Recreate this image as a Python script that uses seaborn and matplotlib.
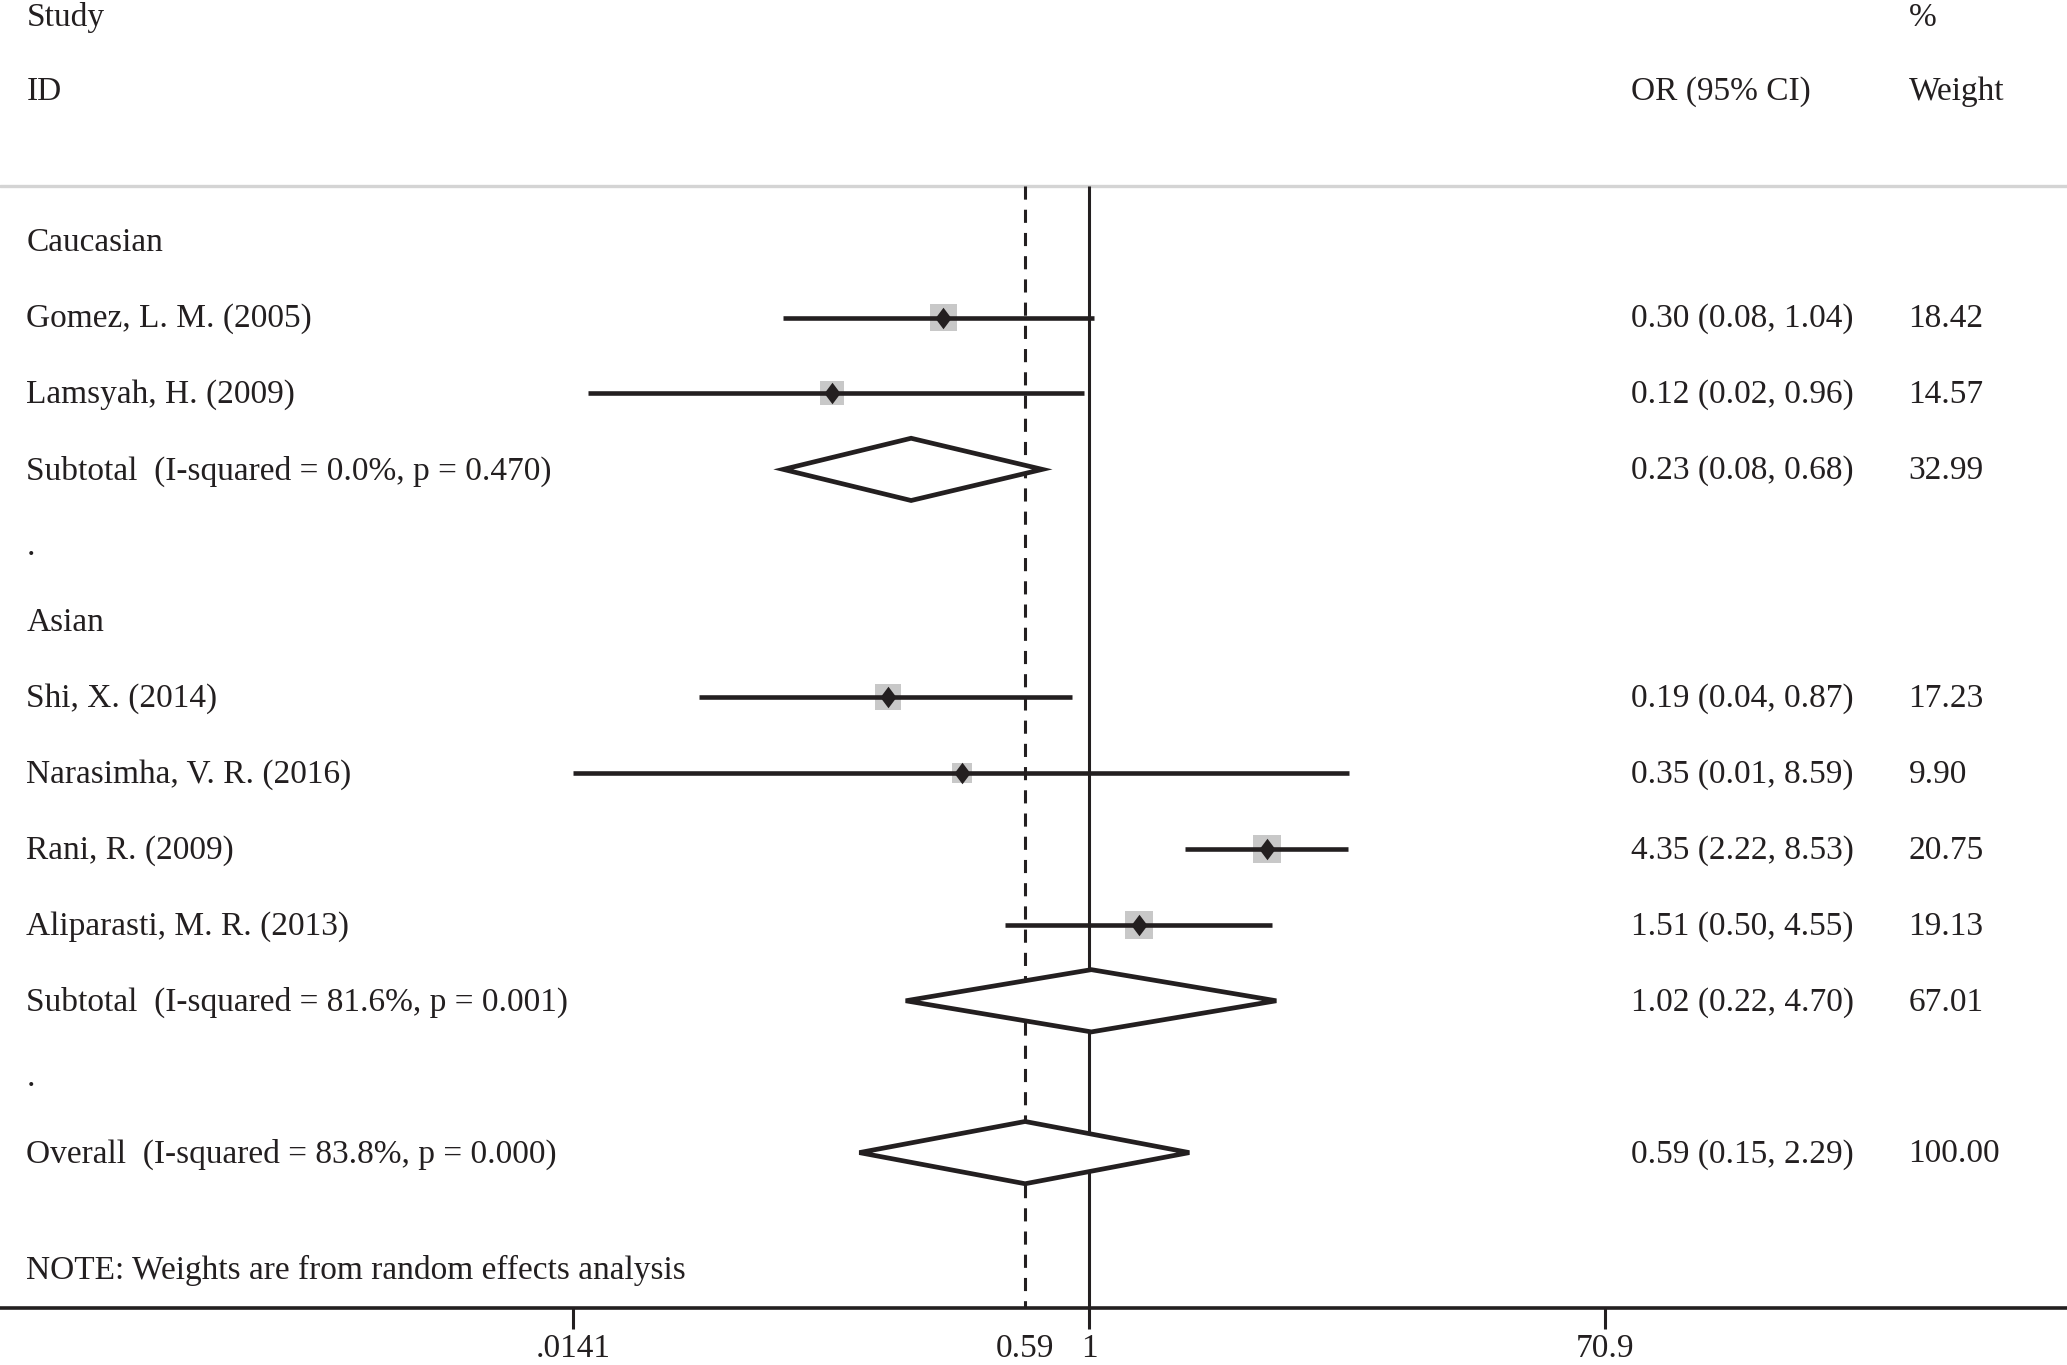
import numpy as np
import pandas as pd
import seaborn as sns
import matplotlib.pyplot as plt
from matplotlib.markers import MarkerStyle
from matplotlib.transforms import blended_transform_factory

# individual studies
studies = ["Gomez, L. M. (2005)", "Lamsyah, H. (2009)", "Shi, X. (2014)",
           "Narasimha, V. R. (2016)", "Rani, R. (2009)", "Aliparasti, M. R. (2013)"]
study_rows = [1, 2, 6, 7, 8, 9]
study_or = [0.30, 0.12, 0.19, 0.35, 4.35, 1.51]
study_lo = [0.08, 0.016, 0.04, 0.01, 2.22, 0.50]
study_hi = [1.04, 0.96, 0.87, 8.59, 8.53, 4.55]
study_weight = [18.42, 14.57, 17.23, 9.90, 20.75, 19.13]

# subtotals / overall
pooled = ["Subtotal  (I-squared = 0.0%, p = 0.470)",
          "Subtotal  (I-squared = 81.6%, p = 0.001)",
          "Overall  (I-squared = 83.8%, p = 0.000)"]
pooled_rows = [3, 10, 12]
pooled_or = [0.23, 1.02, 0.59]
pooled_lo = [0.08, 0.22, 0.15]
pooled_hi = [0.68, 4.70, 2.29]
pooled_weight = [32.99, 67.01, 100.00]

groups = ["Caucasian", ".", "Asian", "."]
group_rows = [0, 4, 5, 11]

tick_vals = [0.0141, 1, 70.9]
tick_labels = [".0141", "1", "70.9"]
overall_or = 0.59

ink = "#231f20"
fs = 24

sns.set_theme(style="white")
plt.rcParams["font.family"] = ["Liberation Serif", "DejaVu Serif"]

df = pd.DataFrame({"study": studies, "row": study_rows, "or": study_or,
                   "lo": study_lo, "hi": study_hi, "weight": study_weight})

fig = plt.figure(figsize=(20.67, 13.65), dpi=100)
ax = fig.add_axes([0, 43 / 1034, 1, 991 / 1034])
ax.set_xscale("log")
ax.set_xlim(10 ** -3.9076, 10 ** 3.5095)
ax.set_ylim(14.05, -3.183)

# reference lines
ax.axhline(-0.73, color="#d4d4d4", lw=2.4)
ax.vlines(1, -0.73, 14.05, color=ink, lw=2.2)
ax.vlines(overall_or, -0.73, 14.05, color=ink, lw=2.2, linestyles=(0, (4.3, 3.3)))

# weight boxes
sns.scatterplot(data=df, x="or", y="row", size="weight", sizes=(0, 2050),
                size_norm=(0, 100), marker="s", color="#c8c8c8",
                linewidth=0, legend=False, ax=ax, zorder=3)

# confidence intervals, clipped to the axis range
lo_c = np.clip(df["lo"], tick_vals[0], tick_vals[-1])
hi_c = np.clip(df["hi"], tick_vals[0], tick_vals[-1])
ax.hlines(df["row"], lo_c, hi_c, color=ink, lw=3.3, zorder=4)

# point estimates
diamond = MarkerStyle([(-0.75, 0), (0, 1), (0.75, 0), (0, -1)])
sns.scatterplot(data=df, x="or", y="row", marker=diamond, s=240, color=ink,
                linewidth=0, legend=False, ax=ax, zorder=5)

# pooled diamonds
for r, est, lo, hi in zip(pooled_rows, pooled_or, pooled_lo, pooled_hi):
    ax.fill([lo, est, hi, est], [r, r - 0.41, r, r + 0.41],
            facecolor="white", edgecolor=ink, lw=3.4, zorder=4)

# text columns
tr = blended_transform_factory(ax.transAxes, ax.transData)
x_name, x_or, x_w = 0.0128, 0.789, 0.9233
dy = 0.02
kw = dict(transform=tr, va="center", fontsize=fs, color=ink)

ax.text(x_name, -2.97 + dy, "Study", **kw)
ax.text(x_name, -2.0 + dy, "ID", **kw)
ax.text(x_or, -2.0 + dy, "OR (95% CI)", **kw)
ax.text(x_w, -2.97 + dy, "%", **kw)
ax.text(x_w, -2.0 + dy, "Weight", **kw)

for g, r in zip(groups, group_rows):
    ax.text(x_name, r + dy, g, **kw)

for _, s in df.iterrows():
    ax.text(x_name, s["row"] + dy, s["study"], **kw)
    ax.text(x_or, s["row"] + dy, f"{s['or']:.2f} ({s['lo']:.2f}, {s['hi']:.2f})", **kw)
    ax.text(x_w, s["row"] + dy, f"{s['weight']:.2f}", **kw)

for name, r, est, lo, hi, w in zip(pooled, pooled_rows, pooled_or, pooled_lo,
                                   pooled_hi, pooled_weight):
    ax.text(x_name, r + dy, name, **kw)
    ax.text(x_or, r + dy, f"{est:.2f} ({lo:.2f}, {hi:.2f})", **kw)
    ax.text(x_w, r + dy, f"{w:.2f}", **kw)

ax.text(x_name, 13.53 + dy, "NOTE: Weights are from random effects analysis", **kw)

# axis
for side in ["left", "right", "top"]:
    ax.spines[side].set_visible(False)
ax.spines["bottom"].set_color(ink)
ax.spines["bottom"].set_linewidth(2.6)
ax.set_yticks([])
ax.set_xticks(tick_vals, tick_labels)
ax.set_xticks([overall_or], ["0.59"], minor=True)
ax.tick_params(axis="x", which="major", length=15, width=2.2, color=ink,
               labelsize=fs, labelcolor=ink, pad=3, bottom=True)
ax.tick_params(axis="x", which="minor", length=0, labelsize=fs,
               labelcolor=ink, pad=18, bottom=True)
ax.set_xlabel("")
ax.set_ylabel("")

fig.savefig("out.png", dpi=100)
